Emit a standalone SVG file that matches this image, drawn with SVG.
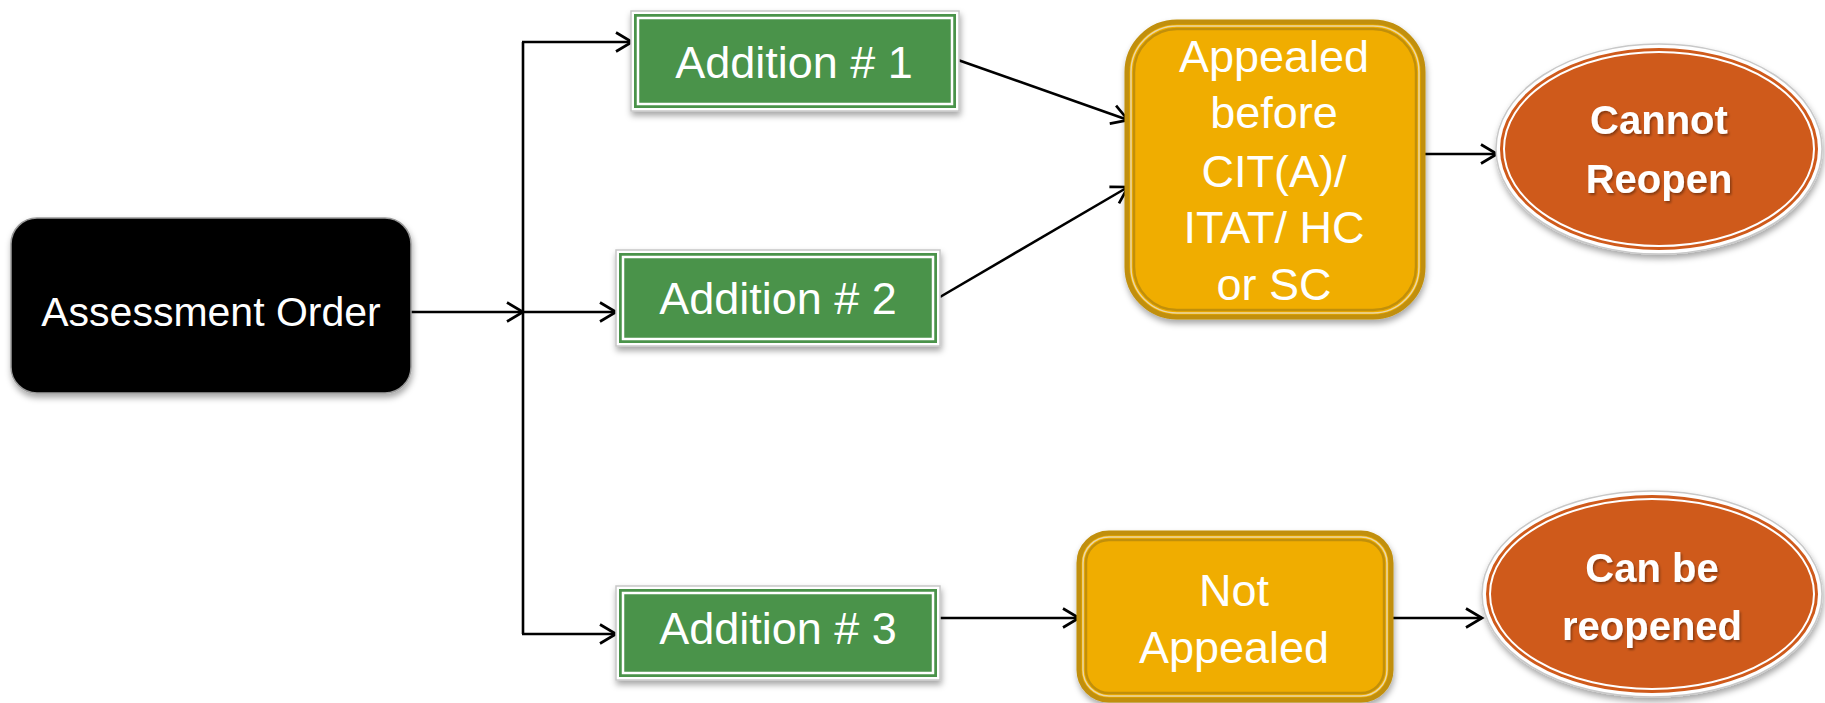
<svg xmlns="http://www.w3.org/2000/svg" width="1825" height="703" viewBox="0 0 1825 703">
<defs>
<filter id="sh" x="-10%" y="-10%" width="125%" height="130%">
<feDropShadow dx="1" dy="4" stdDeviation="3" flood-color="#000" flood-opacity="0.35"/>
</filter>
<filter id="tsh" x="-10%" y="-20%" width="130%" height="150%">
<feDropShadow dx="1.5" dy="2" stdDeviation="1" flood-color="#000" flood-opacity="0.35"/>
</filter>
<marker id="ar" markerUnits="userSpaceOnUse" markerWidth="24" markerHeight="24" refX="18" refY="12" orient="auto">
<path d="M2,2.5 L18,12 L2,21.5" fill="none" stroke="#000" stroke-width="2.7"/>
</marker>
</defs>
<style>
.t{font-family:"Liberation Sans",Arial,sans-serif;fill:#fff;text-anchor:middle}
.b{font-weight:bold}
.c{stroke:#000;stroke-width:2.6;fill:none}
.ca{stroke:#000;stroke-width:2.6;fill:none;marker-end:url(#ar)}
.gf{fill:#fff;stroke:#c8c8c8;stroke-width:1.5}
.gi{fill:#4A934A}
.gl{fill:none;stroke:#fff;stroke-width:2.5}
.yo{fill:#F0AD00;stroke:#C18F0A;stroke-width:5}
.yl{fill:none;stroke:#E9D7A8;stroke-width:1.5}
.yi{fill:none;stroke:#C18F0A;stroke-width:2.5}
.eo{fill:#fff;stroke:#c8c8c8;stroke-width:1.5}
.ei{fill:#CF5A1B}
.el{fill:none;stroke:#fff;stroke-width:2}
</style>
<g id="connectors">
<line class="ca" x1="411" y1="312" x2="523" y2="312"/>
<line class="c" x1="523" y1="42" x2="523" y2="634"/>
<line class="ca" x1="522" y1="42" x2="632" y2="42"/>
<line class="ca" x1="523" y1="312" x2="616" y2="312"/>
<line class="ca" x1="522" y1="634" x2="616" y2="634"/>
<line class="ca" x1="958" y1="60" x2="1128" y2="120"/>
<line class="ca" x1="940" y1="297" x2="1128" y2="187"/>
<line class="ca" x1="1423" y1="154" x2="1497" y2="154"/>
<line class="ca" x1="940" y1="618" x2="1079" y2="618"/>
<line class="ca" x1="1391" y1="618" x2="1482" y2="618"/>
</g>
<g id="assessment">
<rect x="11" y="218" width="400" height="175" rx="26" fill="#050505" stroke="#9a9a9a" stroke-width="1.5" filter="url(#sh)"/>
<text class="t" x="211" y="326" font-size="41">Assessment Order</text>
</g>
<g id="addition1">
<rect class="gf" x="631" y="11" width="328" height="100" filter="url(#sh)"/>
<rect class="gi" x="634" y="14" width="322" height="94"/>
<rect class="gl" x="638" y="18" width="314" height="86"/>
<text class="t" x="794" y="78" font-size="45">Addition # 1</text>
</g>
<g id="addition2">
<rect class="gf" x="616" y="250" width="324" height="96" filter="url(#sh)"/>
<rect class="gi" x="619" y="253" width="318" height="90"/>
<rect class="gl" x="623" y="257" width="310" height="82"/>
<text class="t" x="778" y="314" font-size="45">Addition # 2</text>
</g>
<g id="addition3">
<rect class="gf" x="616" y="586" width="324" height="94" filter="url(#sh)"/>
<rect class="gi" x="619" y="589" width="318" height="88"/>
<rect class="gl" x="623" y="593" width="310" height="80"/>
<text class="t" x="778" y="644" font-size="45">Addition # 3</text>
</g>
<g id="appealed">
<rect class="yo" x="1127" y="22" width="296" height="295" rx="50" filter="url(#sh)"/>
<rect class="yl" x="1131" y="26" width="288" height="287" rx="46"/>
<rect class="yi" x="1134" y="29" width="282" height="281" rx="43"/>
<text class="t" x="1274" y="72" font-size="45">Appealed</text>
<text class="t" x="1274" y="128" font-size="45">before</text>
<text class="t" x="1274" y="187" font-size="45">CIT(A)/</text>
<text class="t" x="1274" y="243" font-size="45">ITAT/ HC</text>
<text class="t" x="1274" y="300" font-size="45">or SC</text>
</g>
<g id="notappealed">
<rect class="yo" x="1079" y="533" width="312" height="167" rx="30" filter="url(#sh)"/>
<rect class="yl" x="1083" y="537" width="304" height="159" rx="26"/>
<rect class="yi" x="1086" y="540" width="298" height="153" rx="23"/>
<text class="t" x="1234" y="606" font-size="45">Not</text>
<text class="t" x="1234" y="663" font-size="45">Appealed</text>
</g>
<g id="cannot">
<ellipse class="eo" cx="1659" cy="149" rx="163" ry="105" filter="url(#sh)"/>
<ellipse class="ei" cx="1659" cy="149" rx="159" ry="101"/>
<ellipse class="el" cx="1659" cy="149" rx="155" ry="97"/>
<g filter="url(#tsh)">
<text class="t b" x="1659" y="134" font-size="40">Cannot</text>
<text class="t b" x="1659" y="193" font-size="40">Reopen</text>
</g>
</g>
<g id="canbe">
<ellipse class="eo" cx="1652" cy="594" rx="170" ry="103" filter="url(#sh)"/>
<ellipse class="ei" cx="1652" cy="594" rx="166" ry="99"/>
<ellipse class="el" cx="1652" cy="594" rx="162" ry="95"/>
<g filter="url(#tsh)">
<text class="t b" x="1652" y="582" font-size="40">Can be</text>
<text class="t b" x="1652" y="640" font-size="40">reopened</text>
</g>
</g>
</svg>
